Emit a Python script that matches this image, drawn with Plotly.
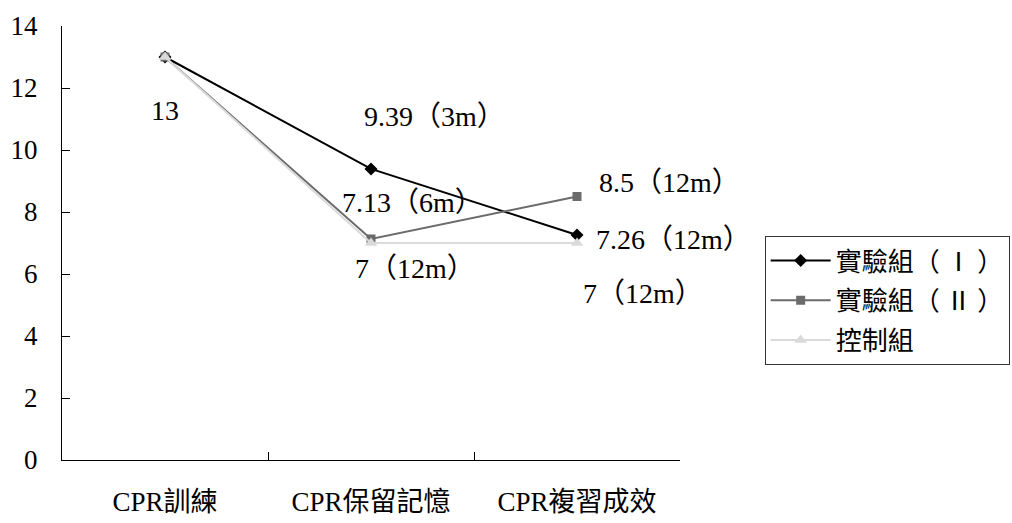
import plotly.graph_objects as go

categories = ["CPR訓練", "CPR保留記憶", "CPR複習成效"]
exp1 = [13, 9.39, 7.26]
exp2 = [13, 7.13, 8.5]
control = [13, 7, 7]
series_names = ["實驗組（ Ⅰ ）", "實驗組（ Ⅱ ）", "控制組"]
label_texts = ["13", "9.39（3m）", "7.13（6m）", "7（12m）", "8.5（12m）", "7.26（12m）", "7（12m）"]
label_points = [(0, exp1[0]), (1, exp1[1]), (1, exp2[1]), (1, control[1]),
                (2, exp2[2]), (2, exp1[2]), (2, control[2])]
label_shifts = [(0, -53), (63, 52), (41, 36), (44, -25), (92, 14), (96, -5), (66, -50)]

SERIF = "Liberation Serif, Noto Sans CJK TC, serif"

fig = go.Figure()
fig.add_trace(go.Scatter(x=categories, y=exp1, name=series_names[0], mode="lines+markers",
                         line=dict(color="#000000", width=2),
                         marker=dict(symbol="diamond", size=10, color="#000000"),
                         legendgroup="a"))
fig.add_trace(go.Scatter(x=categories, y=exp2, name=series_names[1], mode="lines+markers",
                         line=dict(color="#6b6b6b", width=2),
                         marker=dict(symbol="square", size=9, color="#6b6b6b"),
                         legendgroup="b"))
fig.add_trace(go.Scatter(x=categories, y=control, name=series_names[2], mode="lines+markers",
                         line=dict(color="#dadada", width=2),
                         marker=dict(symbol="triangle-up", size=11, color="#dadada"),
                         legendgroup="c"))

for txt, (ci, val), (dx, dy) in zip(label_texts, label_points, label_shifts):
    fig.add_annotation(x=categories[ci], y=val, xref="x", yref="y", text=txt,
                       showarrow=False, xshift=dx, yshift=dy,
                       font=dict(family=SERIF, size=28, color="#000000"))

fig.update_layout(
    width=1012, height=523,
    margin=dict(l=62, r=332, t=26, b=63, autoexpand=False),
    paper_bgcolor="white", plot_bgcolor="white",
    font=dict(family=SERIF, color="#000000"),
    legend=dict(x=1.137, y=0.516, xanchor="left", yanchor="top",
                bordercolor="#333333", borderwidth=1,
                font=dict(family="Noto Sans CJK TC", size=26, color="#000000"),
                tracegroupgap=3, itemwidth=60),
    showlegend=True,
)
fig.update_xaxes(type="category", range=[-0.5, 2.5], showline=True, linecolor="#000000",
                 linewidth=1, ticks="inside", tickson="boundaries", ticklen=8,
                 tickcolor="#000000", showgrid=False, zeroline=False, automargin=False,
                 tickfont=dict(family=SERIF, size=27), ticklabelstandoff=18)
fig.update_yaxes(range=[0, 14], dtick=2, showline=True, linecolor="#000000",
                 linewidth=1, ticks="inside", ticklen=8, tickcolor="#000000",
                 showgrid=False, zeroline=False, automargin=False,
                 tickfont=dict(family=SERIF, size=27), ticklabelstandoff=18)

fig.write_html("out.html")
